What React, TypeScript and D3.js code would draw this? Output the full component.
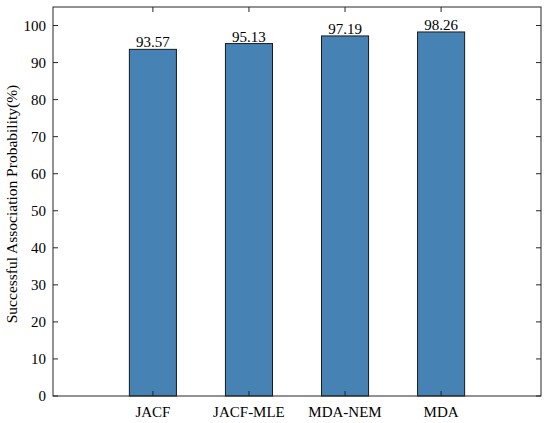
import * as d3 from "d3";

// chart values
const categories = ["JACF", "JACF-MLE", "MDA-NEM", "MDA"];
const probabilities = [93.57, 95.13, 97.19, 98.26];
const yTicks = [0, 10, 20, 30, 40, 50, 60, 70, 80, 90, 100];

const width = 550;
const height = 423;
const margin = { top: 7, right: 9, bottom: 27, left: 53 };
const axisColor = "#262626";
const font = "'Liberation Serif', 'Times New Roman', serif";

const App = () => {
	const x0 = margin.left;
	const x1 = width - margin.right;
	const y0 = height - margin.bottom;
	const y1 = margin.top;

	//point scale with wide outer padding, like matlab's xlim around the bars
	const xScale = d3.scalePoint<string>().domain(categories).range([x0, x1]).padding(1.04);
	const yScale = d3.scaleLinear().domain([0, 105]).range([y0, y1]);
	const barWidth = xScale.step() * 0.49;
	const tick = 5;

	return (
		<svg
			width={width}
			height={height}
			style={{ display: "block", position: "absolute", left: 0, top: 0 }}
		>
			<rect width={width} height={height} fill="white" />
			{/* bars */}
			{categories.map((c, i) => (
				<g key={c}>
					<rect
						x={xScale(c)! - barWidth / 2}
						y={yScale(probabilities[i])}
						width={barWidth}
						height={y0 - yScale(probabilities[i])}
						fill="#4682B4"
						stroke="#1a1a1a"
						strokeWidth={1}
					/>
					<text
						x={xScale(c)!}
						y={yScale(probabilities[i]) - 2}
						textAnchor="middle"
						fontFamily={font}
						fontSize={15}
						fill="#000"
					>
						{probabilities[i].toFixed(2)}
					</text>
				</g>
			))}
			{/* frame */}
			<rect x={x0} y={y1} width={x1 - x0} height={y0 - y1} fill="none" stroke={axisColor} strokeWidth={1} />
			{/* y ticks */}
			{yTicks.map((t) => (
				<g key={t}>
					<line x1={x0} x2={x0 + tick} y1={yScale(t)} y2={yScale(t)} stroke={axisColor} />
					<line x1={x1} x2={x1 - tick} y1={yScale(t)} y2={yScale(t)} stroke={axisColor} />
					<text
						x={x0 - 7}
						y={yScale(t)}
						dy="0.35em"
						textAnchor="end"
						fontFamily={font}
						fontSize={15}
						fill="#000"
					>
						{t}
					</text>
				</g>
			))}
			{/* x ticks */}
			{categories.map((c) => (
				<g key={c}>
					<line x1={xScale(c)!} x2={xScale(c)!} y1={y0} y2={y0 - tick} stroke={axisColor} />
					<line x1={xScale(c)!} x2={xScale(c)!} y1={y1} y2={y1 + tick} stroke={axisColor} />
					<text
						x={xScale(c)!}
						y={y0 + 20.5}
						textAnchor="middle"
						fontFamily={font}
						fontSize={15}
						fill="#000"
					>
						{c}
					</text>
				</g>
			))}
			<text
				transform={`translate(17, 204) rotate(-90)`}
				textAnchor="middle"
				fontFamily={font}
				fontSize={15.5}
				fill="#000"
			>
				Successful Association Probability(%)
			</text>
		</svg>
	);
};

export default App;
